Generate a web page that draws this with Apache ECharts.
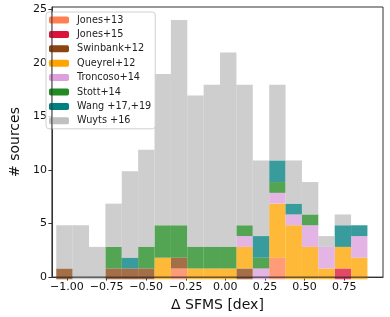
<!DOCTYPE html>
<html><head><meta charset="utf-8">
<script src="https://cdn.jsdelivr.net/npm/echarts@6/dist/echarts.min.js"></script>
<style>html,body{margin:0;padding:0;background:#fff}#c{width:390px;height:317px}</style>
</head><body><div id="c"></div>
<script>
// lower edges of the 0.1-dex bins
var binStarts = [-1.0,-0.9,-0.8,-0.7,-0.6,-0.5,-0.4,-0.3,-0.2,-0.1,0.0,0.1,0.2,0.3,0.4,0.5,0.6,0.7,0.8];
var binWidth = 0.1;
var jones13   = [0,0,0,0,0,0,0,1,0,0,0,0,0,2,0,0,0,0,0];
var jones15   = [0,0,0,0,0,0,0,0,0,0,0,0,0,0,0,0,0,1,0];
var swinbank12= [1,0,0,1,1,1,0,1,0,0,0,1,0,0,0,0,0,0,0];
var queyrel12 = [0,0,0,0,0,0,2,0,1,1,1,2,0,5,5,3,1,2,2];
var troncoso14= [0,0,0,0,0,0,0,0,0,0,0,1,1,1,1,2,2,0,2];
var stott14   = [0,0,0,2,0,2,3,3,2,2,2,1,1,1,0,1,0,0,0];
var wang1719  = [0,0,0,0,1,0,0,0,0,0,0,0,2,2,1,0,0,2,1];
var wuyts16   = [4,5,3,4,8,9,14,19,14,15,18,13,7,7,4,3,1,1,0];
var xTicks = [-1.0,-0.75,-0.5,-0.25,0.0,0.25,0.5,0.75];
var yTicks = [0,5,10,15,20,25];

var names = ['Jones+13','Jones+15','Swinbank+12','Queyrel+12','Troncoso+14','Stott+14','Wang +17,+19','Wuyts +16'];
var values = [jones13,jones15,swinbank12,queyrel12,troncoso14,stott14,wang1719,wuyts16];
var solid = ['#FF7F50','#DC143C','#8B4513','#FFA500','#DDA0DD','#228B22','#008080','#C0C0C0'];
function rgba(hex,a){var r=parseInt(hex.substr(1,2),16),g=parseInt(hex.substr(3,2),16),b=parseInt(hex.substr(5,2),16);return 'rgba('+r+','+g+','+b+','+a+')';}

var chart = echarts.init(document.getElementById('c'), null, {renderer:'canvas'});
var xMin=-1.095, xMax=0.995;
var gridL=40.7, gridR=7, gridT=7, gridB=37.7;
var pxPerUnit=(390-gridL-gridR)/(xMax-xMin);
var binLo=binStarts[0], binHi=binStarts[binStarts.length-1]+binWidth;
var grid2L=gridL+(binLo-xMin)*pxPerUnit, grid2R=gridR+(xMax-binHi)*pxPerUnit;
var cats = binStarts.map(function(b){return (b+binWidth/2).toFixed(2);});
var series = names.map(function(n,i){
  return {
    name:n, type:'bar', stack:'all', xAxisIndex:1, yAxisIndex:1,
    barWidth:'100%', barCategoryGap:0,
    itemStyle:{color:rgba(solid[i],0.78)},
    emphasis:{disabled:true},
    data: values[i].slice()
  };
});
var fmt = function(v){var s=Math.abs(v).toFixed(2);return (v<-1e-9?'\u2212':'')+s;};
chart.setOption({
  animation:false,
  textStyle:{fontFamily:'DejaVu Sans'},
  grid:[
    {left:gridL,right:gridR,top:gridT,bottom:gridB,show:true,borderColor:'#333',borderWidth:1,backgroundColor:'transparent',z:5},
    {left:grid2L,right:grid2R,top:gridT,bottom:gridB,show:false}
  ],
  legend:{
    orient:'vertical', left:46, top:12, padding:[3,4,3,3],
    itemWidth:20, itemHeight:7, itemGap:4.4,
    backgroundColor:'rgba(255,255,255,0.8)', borderColor:'#d0d0d0', borderWidth:1, borderRadius:3,
    textStyle:{fontFamily:'DejaVu Sans', fontSize:9.7, color:'#222', lineHeight:10, padding:[0,0,0,3]},
    data: names.map(function(n,i){return {name:n, itemStyle:{color:solid[i], opacity:1}};})
  },
  xAxis:[{
    type:'value', gridIndex:0, min:xMin, max:xMax,
    name:'\u0394 SFMS [dex]', nameLocation:'middle', nameGap:17,
    nameTextStyle:{fontFamily:'DejaVu Sans', fontSize:14, color:'#111'},
    axisLine:{show:true, onZero:false, lineStyle:{color:'#333',width:1}},
    axisTick:{show:true, inside:false, length:3.5, lineStyle:{color:'#333'}, customValues:xTicks},
    axisLabel:{fontFamily:'DejaVu Sans', fontSize:11, color:'#111', margin:5, customValues:xTicks, formatter:fmt},
    splitLine:{show:false}
  },{
    type:'category', gridIndex:1, data:cats, boundaryGap:true, show:false
  }],
  yAxis:[{
    type:'value', gridIndex:0, min:0, max:25.2,
    name:'# sources', nameLocation:'middle', nameGap:23,
    nameTextStyle:{fontFamily:'DejaVu Sans', fontSize:14, color:'#111'},
    axisLine:{show:true, onZero:false, lineStyle:{color:'#333',width:1}},
    axisTick:{show:true, inside:false, length:3.5, lineStyle:{color:'#333'}, customValues:yTicks},
    axisLabel:{fontFamily:'DejaVu Sans', fontSize:11, color:'#111', margin:5, customValues:yTicks},
    splitLine:{show:false}
  },{
    type:'value', gridIndex:1, min:0, max:25.2, show:false
  }],
  series:series
});
</script></body></html>
